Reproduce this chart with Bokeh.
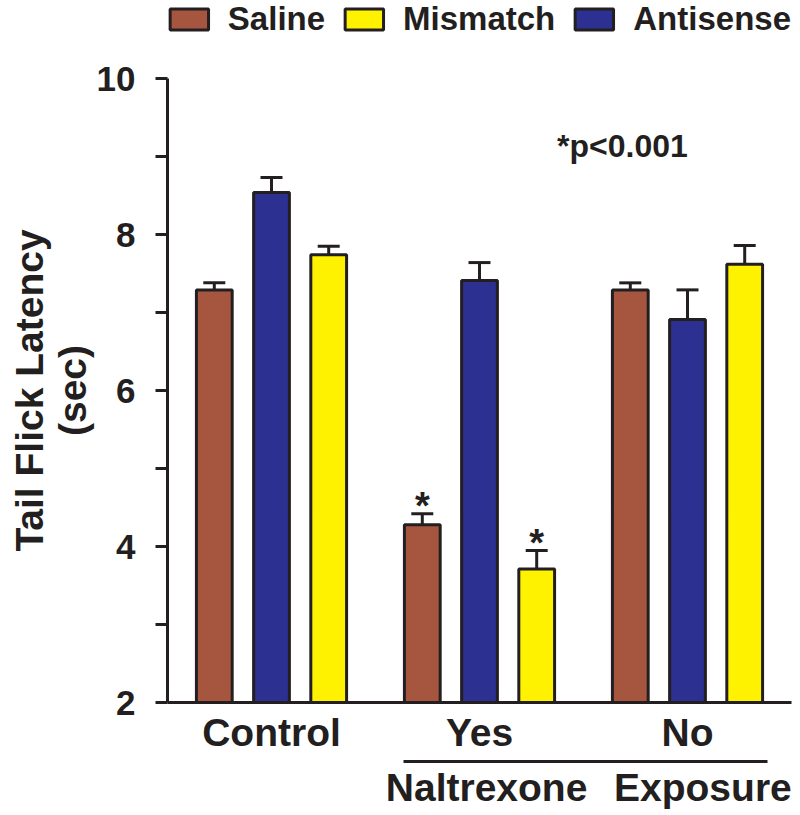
from bokeh.plotting import figure
from bokeh.layouts import column
from bokeh.models import (ColumnDataSource, Range1d, FixedTicker, LinearAxis, Whisker,
                          TeeHead, Legend, LegendItem, Label)
from bokeh.core.properties import value
from bokeh.embed import file_html
from bokeh.resources import INLINE

# ---------------- data ----------------
groups = ["Control", "Yes", "No"]
saline = [7.29, 4.28, 7.29]
saline_err = [0.09, 0.14, 0.09]
antisense = [8.54, 7.41, 6.91]
antisense_err = [0.19, 0.23, 0.38]
mismatch = [7.74, 3.71, 7.62]
mismatch_err = [0.11, 0.24, 0.24]
sig_saline = [False, True, False]
sig_mismatch = [False, True, False]
y_ticks = [2, 4, 6, 8, 10]
y_minor = [3, 5, 7, 9]
y_title = "Tail Flick Latency\n(sec)"
bottom_label = ["Naltrexone", "Exposure"]
p_text = "*p<0.001"
legend_order = ["Saline", "Mismatch", "Antisense"]

# ---------------- style ----------------
FONT = "Liberation Sans"
INK = "#231f20"
C_SAL = "#a6553e"
C_ANT = "#2c3091"
C_MIS = "#fff200"
OFF = 0.275
BW = 0.172
colors = {"Saline": C_SAL, "Antisense": C_ANT, "Mismatch": C_MIS}
values = {"Saline": saline, "Antisense": antisense, "Mismatch": mismatch}
xc = [i + 1 for i in range(len(groups))]

# ---------- legend strip (top) ----------
lg = figure(width=800, height=56, output_backend="svg", toolbar_location=None,
            x_range=Range1d(0.5, 3.5), y_range=Range1d(2, 10),
            min_border_left=167, min_border_right=9, min_border_top=0, min_border_bottom=0,
            x_axis_type=None, y_axis_type=None)
lg.outline_line_color = None
lg.xgrid.visible = False
lg.ygrid.visible = False
items = []
for name in legend_order:
    r = lg.vbar(x=xc, top=values[name], bottom=2, width=BW, fill_color=colors[name],
                line_color=INK, line_width=3, visible=False)
    items.append(LegendItem(label=name, renderers=[r]))
legend = Legend(items=items, location="top_right", orientation="horizontal",
                glyph_width=48, glyph_height=26, label_standoff=15, spacing=15,
                padding=0, margin=0, border_line_color=None,
                background_fill_alpha=0, inactive_fill_alpha=0,
                label_text_font=FONT, label_text_font_style="bold",
                label_text_font_size="33px", label_text_color=INK)
lg.add_layout(legend, "center")

# ---------- main plot ----------
p = figure(width=800, height=759, output_backend="svg", toolbar_location=None,
           x_range=Range1d(0.5, 3.5), y_range=Range1d(2, 10),
           min_border_left=167, min_border_right=9, min_border_top=22,
           min_border_bottom=113, x_axis_type=None, y_axis_type=None)
p.outline_line_color = None
p.background_fill_color = "white"
p.border_fill_color = "white"

series = [
    ("Saline", saline, saline_err, -OFF),
    ("Antisense", antisense, antisense_err, 0.0),
    ("Mismatch", mismatch, mismatch_err, OFF),
]
for name, vals, errs, off in series:
    xs = [x + off for x in xc]
    src = ColumnDataSource(dict(x=xs, top=vals,
                                lower=vals,
                                upper=[v + e for v, e in zip(vals, errs)]))
    w = Whisker(base="x", lower="lower", upper="upper", source=src,
                line_color=INK, line_width=3, lower_head=None,
                upper_head=TeeHead(size=22, line_color=INK, line_width=3),
                level="underlay")
    p.add_layout(w)
    p.vbar(x="x", top="top", bottom=2, width=BW, source=src,
           fill_color=colors[name], line_color=INK, line_width=3)

# significance stars
sx, sy = [], []
for vals, errs, sig, off in [(saline, saline_err, sig_saline, -OFF),
                             (mismatch, mismatch_err, sig_mismatch, OFF)]:
    for i, s in enumerate(sig):
        if s:
            sx.append(xc[i] + off)
            sy.append(vals[i] + errs[i] + 0.1)
p.text(x=sx, y=sy, text=["*"] * len(sx), text_align="center", text_baseline="middle",
       text_font=value(FONT), text_font_style="bold", text_font_size="38px",
       text_color=INK)

p.add_layout(Label(x=2.6875, y=9.13, text=p_text, text_align="center",
                   text_baseline="alphabetic", text_font=FONT, text_font_style="bold",
                   text_font_size="32px", text_color=INK))

# y axis
yax = LinearAxis(ticker=FixedTicker(ticks=y_ticks, minor_ticks=y_minor))
yax.axis_line_width = 3
yax.axis_line_color = INK
yax.major_tick_line_width = 3
yax.major_tick_line_color = INK
yax.minor_tick_line_width = 3
yax.minor_tick_line_color = INK
yax.major_tick_out = 12
yax.major_tick_in = 0
yax.minor_tick_out = 12
yax.minor_tick_in = 0
yax.major_label_standoff = 20
yax.major_label_text_font = FONT
yax.major_label_text_font_style = "bold"
yax.major_label_text_font_size = "35px"
yax.major_label_text_color = INK
yax.axis_label = y_title
yax.axis_label_standoff = 0
yax.axis_label_text_font = FONT
yax.axis_label_text_font_style = "bold"
yax.axis_label_text_font_size = "39px"
yax.axis_label_text_line_height = 1.0
yax.axis_label_text_color = INK
p.add_layout(yax, "left")

# x axis (groups)
xax = LinearAxis(ticker=FixedTicker(ticks=xc, minor_ticks=[]))
xax.major_label_overrides = {x: g for x, g in zip(xc, groups)}
xax.axis_line_width = 3
xax.axis_line_color = INK
xax.major_tick_line_color = None
xax.major_tick_out = 0
xax.major_tick_in = 0
xax.minor_tick_line_color = None
xax.major_label_standoff = 8
xax.major_label_text_font = FONT
xax.major_label_text_font_style = "bold"
xax.major_label_text_font_size = "39px"
xax.major_label_text_color = INK
xax.axis_label = " "
xax.axis_label_text_font_size = "2px"
xax.axis_label_standoff = 0
p.add_layout(xax, "below")

# second x axis: Naltrexone Exposure bracket
b_ticks = [2.034, 3.074]
xax2 = LinearAxis(ticker=FixedTicker(ticks=b_ticks, minor_ticks=[]),
                  bounds=(1.635, 3.385))
xax2.major_label_overrides = {t: s for t, s in zip(b_ticks, bottom_label)}
xax2.axis_line_width = 3
xax2.axis_line_color = INK
xax2.major_tick_line_color = None
xax2.major_tick_out = 0
xax2.major_tick_in = 0
xax2.minor_tick_line_color = None
xax2.major_label_standoff = 4
xax2.major_label_text_font = FONT
xax2.major_label_text_font_style = "bold"
xax2.major_label_text_font_size = "39px"
xax2.major_label_text_color = INK
p.add_layout(xax2, "below")

layout = column(lg, p, spacing=0)
open("out.html", "w").write(file_html(layout, INLINE))
